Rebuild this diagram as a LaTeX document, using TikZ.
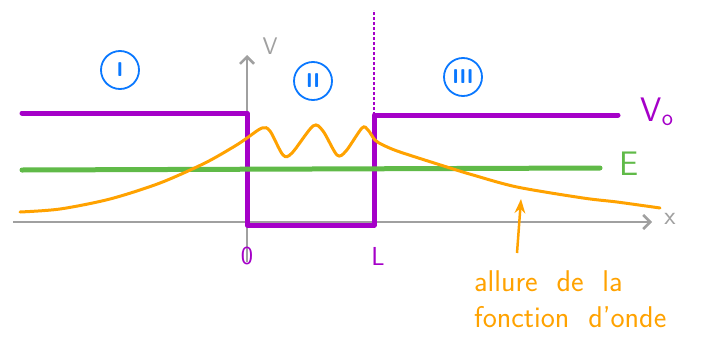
\documentclass[tikz,border=0pt]{standalone}
\usepackage{fontspec}
\usetikzlibrary{arrows.meta,positioning}
\definecolor{violet}{RGB}{165,0,200}
\definecolor{azure}{RGB}{10,120,255}
\definecolor{tangerine}{RGB}{255,162,0}
\definecolor{leaf}{RGB}{96,186,72}
\definecolor{ash}{RGB}{160,160,160}

\tikzset{
  region/.style={draw=azure, circle, line width=1.8pt, text=azure, inner sep=0pt,
    minimum size=38pt, font=\sffamily\bfseries\fontsize{20}{20}\selectfont},
  handtext/.style={font=\sffamily\fontsize{#1}{#1}\selectfont}
}

\begin{document}
\begin{tikzpicture}[>=Stealth, x=1pt, y=-1pt]
    \useasboundingbox (0,0) rectangle (711,359);

    % Axes
    \coordinate (xstart) at (13,222);
    \coordinate (xend) at (652,222);
    \coordinate (ystart) at (247,262);
    \coordinate (yend) at (247,55);
    \draw[-{Straight Barb[length=7pt,width=14pt]}, ash, line width=2.5pt] (xstart) -- (xend);
    \draw[-{Straight Barb[length=7pt,width=14pt]}, ash, line width=2.5pt] (ystart) -- (yend);
    \node[ash, handtext=26] (xlab) at (670,219) {x};
    \node[ash, handtext=24] (vlab) at (270,46) {V};

    % Potential well
    \coordinate (p0) at (22,113);
    \coordinate (p1) at (247,113);
    \coordinate (p2) at (247,225);
    \coordinate (p3) at (374,225);
    \coordinate (p4) at (374,115);
    \coordinate (p5) at (618,115);
    \coordinate (ptop) at (374,10);
    \draw[violet, line width=5pt, line cap=round, line join=round]
        (p0) -- (p1) -- (p2) -- (p3) -- (p4) -- (p5);
    \draw[violet, dash pattern=on 3pt off 2pt, line width=1.5pt] (p4) -- (ptop);
    \node[violet, handtext=34] (vzero) at (657,112) {V\textsubscript{o}};
    \node[violet, handtext=26] (zero) at (247,256) {0};
    \node[violet, handtext=26] (len) at (378,256) {L};

    % Energy level
    \coordinate (e0) at (22,170);
    \coordinate (e1) at (600,168);
    \draw[leaf, line width=5pt, line cap=round] (e0) -- (e1);
    \node[leaf, handtext=34] (elab) at (629,164) {E};

    % Wave function
    \draw[tangerine, line width=3pt, line cap=round] plot[smooth] coordinates {
        (20,212) (60,209) (110,199) (160,183) (205,163) (235,146) (247,138)
        (262,128) (270,131) (283,155) (292,153) (313,126) (323,131) (337,155)
        (346,151) (362,128) (368,130) (375,140) (383,145) (400,152) (450,168)
        (473,175) (517,187) (583,198) (617,202) (660,208)};

    % Regions
    \node[region] (reg1) at (120,70) {I};
    \node[region] (reg2) at (313,81) {II};
    \node[region] (reg3) at (463,77) {III};

    % Note
    \coordinate (wavept) at (521,199);
    \coordinate (arrowfoot) at (517,253);
    \draw[->, tangerine, line width=2.5pt] (arrowfoot) -- (wavept);
    \node[tangerine, handtext=30, align=left, anchor=north west, inner sep=0pt] (note) at (474,270)
        {allure\ \ de\ \ la\\[6pt] fonction\ \ d'onde};

\end{tikzpicture}
\end{document}
